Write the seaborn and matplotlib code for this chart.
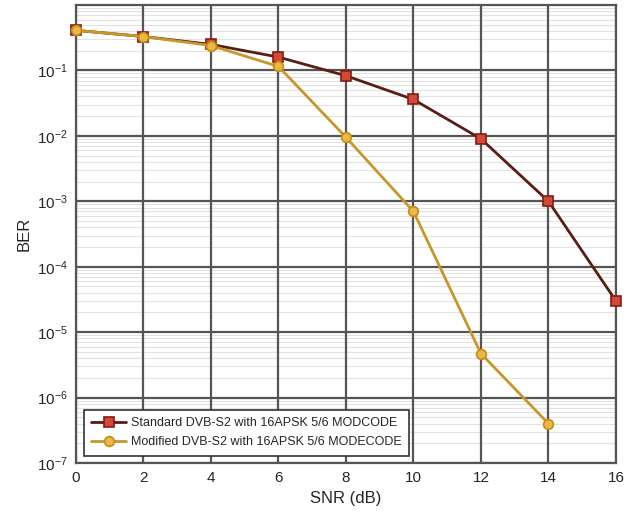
import numpy as np
import pandas as pd
import matplotlib
matplotlib.use("Agg")
import matplotlib.pyplot as plt
import seaborn as sns

# SNR points and BER values
snr = [0, 2, 4, 6, 8, 10, 12, 14, 16]
ber_standard = [0.41, 0.33, 0.25, 0.16, 0.083, 0.036, 0.009, 1.0e-3, 3.0e-5]
snr_modified = [0, 2, 4, 6, 8, 10, 12, 14]
ber_modified = [0.41, 0.33, 0.24, 0.115, 0.0095, 7.0e-4, 4.7e-6, 4.0e-7]

label_standard = "Standard DVB-S2 with 16APSK 5/6 MODCODE"
label_modified = "Modified DVB-S2 with 16APSK 5/6 MODECODE"

sns.set_style("white")
plt.rcParams["font.family"] = ["Liberation Sans", "DejaVu Sans"]

fig = plt.figure(figsize=(6.36, 5.24), dpi=100)
ax = fig.add_axes([0.1195, 0.1164, 0.849, 0.874])

df_std = pd.DataFrame({"snr": snr, "ber": ber_standard})
df_mod = pd.DataFrame({"snr": snr_modified, "ber": ber_modified})

sns.lineplot(data=df_std, x="snr", y="ber", ax=ax, color="#5a1d14", lw=2,
             marker="s", markersize=7, markerfacecolor="#d04a3a",
             markeredgecolor="#8a1a10", markeredgewidth=1.2,
             label=label_standard, zorder=3, clip_on=False)
sns.lineplot(data=df_mod, x="snr", y="ber", ax=ax, color="#c9962a", lw=2,
             marker="o", markersize=7, markerfacecolor="#e8b84a",
             markeredgecolor="#c98a10", markeredgewidth=1.2,
             label=label_modified, zorder=3, clip_on=False)

ax.set_yscale("log")
ax.set_xlim(0, 16)
ax.set_ylim(1e-7, 1)
ax.set_xticks(range(0, 17, 2))
ax.set_yticks([1e-7, 1e-6, 1e-5, 1e-4, 1e-3, 1e-2, 1e-1])
ax.yaxis.set_minor_locator(matplotlib.ticker.LogLocator(base=10, subs=np.arange(2, 10), numticks=20))
ax.yaxis.set_minor_formatter(matplotlib.ticker.NullFormatter())

ax.grid(True, which="major", color="#555555", lw=1.6)
ax.grid(True, which="minor", axis="y", color="#e2e2e2", lw=0.8)
ax.set_axisbelow(True)
# draw the vertical grid after the faint minor lines so it stays solid
ax.xaxis.set_zorder(0.6)
for s in ax.spines.values():
    s.set_color("#555555")
    s.set_linewidth(1.6)

ax.tick_params(axis="both", which="major", labelsize=11, length=0, pad=6)
ax.tick_params(axis="y", which="minor", length=0)
ax.set_xlabel("SNR (dB)", fontsize=12)
ax.set_ylabel("BER", fontsize=12)

leg = ax.legend(loc="lower left", frameon=True, fancybox=False,
                prop={"size": 9},
                edgecolor="#333333", framealpha=1, borderaxespad=0.6,
                handlelength=2.8, handletextpad=0.4, borderpad=0.6,
                labelspacing=0.55)
leg.get_frame().set_linewidth(1.2)

fig.savefig("out.png", dpi=100)
